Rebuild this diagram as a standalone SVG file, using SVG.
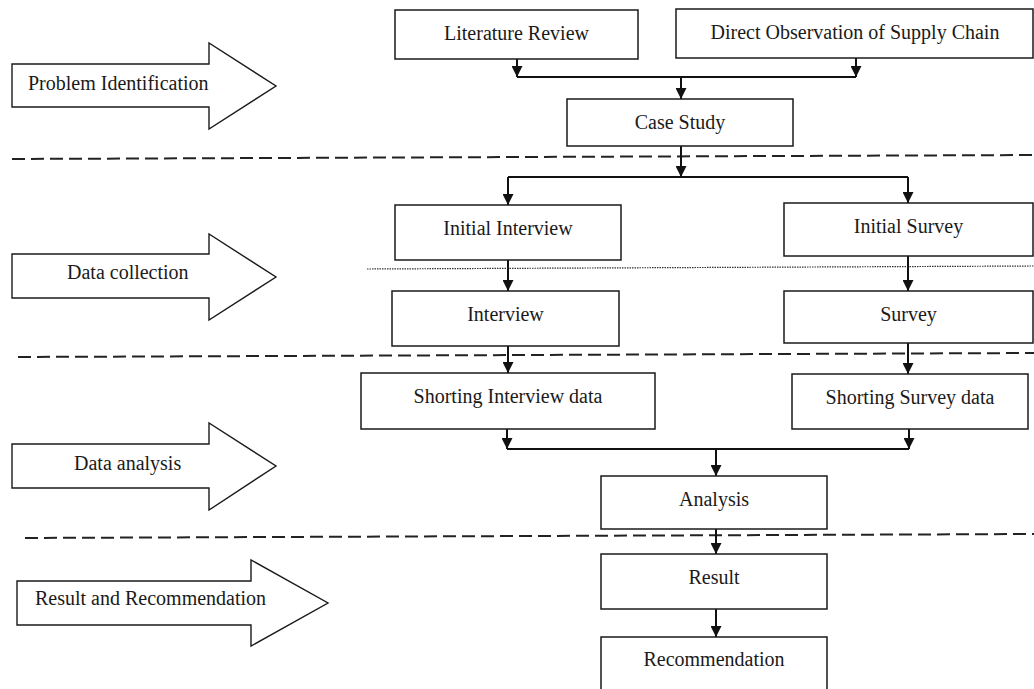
<svg xmlns="http://www.w3.org/2000/svg" width="1034" height="689" viewBox="0 0 1034 689">
<style>
  .box { fill: #ffffff; stroke: #1a1a1a; stroke-width: 1.5; }
  .big { fill: #ffffff; stroke: #1a1a1a; stroke-width: 1.4; stroke-linejoin: miter; }
  .lbl { font-family: "Liberation Serif", "Times New Roman", serif; font-size: 20px; fill: #1a1a1a; }
  .c { text-anchor: middle; }
  .conn { fill: none; stroke: #111111; stroke-width: 2; }
  .arr { marker-end: url(#ah); }
  .dash { fill: none; stroke: #222222; stroke-width: 2; stroke-dasharray: 13 6; }
  .dot { fill: none; stroke: #333333; stroke-width: 1.2; stroke-dasharray: 1.5 1; }
</style>
<defs>
  <marker id="ah" viewBox="0 0 10 10" refX="10" refY="5" markerWidth="12" markerHeight="11" markerUnits="userSpaceOnUse" orient="auto">
    <path d="M0,0 L10,5 L0,10 z" fill="#111111"/>
  </marker>
</defs>
<rect width="1034" height="689" fill="#ffffff"/>

<g id="separators">
  <line class="dash" x1="12" y1="159" x2="1034" y2="155"/>
  <line class="dash" x1="18" y1="357" x2="1034" y2="353"/>
  <line class="dash" x1="25" y1="538" x2="1034" y2="534"/>
  <line class="dot" x1="367" y1="269" x2="1034" y2="266"/>
</g>

<g id="phase-problem">
  <path class="big" d="M12,64 H209 V43 L276,86 L209,129 V107 H12 Z"/>
  <text class="lbl" x="28" y="90">Problem Identification</text>
</g>
<g id="phase-collection">
  <path class="big" d="M12,254 H209 V234 L276,277 L209,320 V298 H12 Z"/>
  <text class="lbl" x="67" y="279">Data collection</text>
</g>
<g id="phase-analysis">
  <path class="big" d="M12,444 H209 V423 L276,466 L209,510 V488 H12 Z"/>
  <text class="lbl" x="74" y="470">Data analysis</text>
</g>
<g id="phase-result">
  <path class="big" d="M17,581 H251 V560 L328,603 L251,646 V625 H17 Z"/>
  <text class="lbl" x="35" y="605">Result and Recommendation</text>
</g>

<g id="connectors">
  <path class="conn arr" d="M517,59 V77"/>
  <path class="conn arr" d="M856,58 V77"/>
  <path class="conn" d="M517,77 H856"/>
  <path class="conn arr" d="M681,77 V99"/>
  <path class="conn arr" d="M681,146 V177"/>
  <path class="conn" d="M508,177 H908"/>
  <path class="conn arr" d="M508,177 V205"/>
  <path class="conn arr" d="M908,177 V203"/>
  <path class="conn arr" d="M508,260 V291"/>
  <path class="conn arr" d="M908,256 V291"/>
  <path class="conn arr" d="M508,346 V373"/>
  <path class="conn arr" d="M908,343 V374"/>
  <path class="conn arr" d="M507,429 V449"/>
  <path class="conn arr" d="M909,429 V449"/>
  <path class="conn" d="M507,449 H909"/>
  <path class="conn arr" d="M716,449 V476"/>
  <path class="conn arr" d="M716,529 V554"/>
  <path class="conn arr" d="M716,609 V637"/>
</g>

<g id="literature-review">
  <rect class="box" x="395" y="10" width="243" height="49"/>
  <text class="lbl c" x="516.5" y="40">Literature Review</text>
</g>
<g id="direct-observation">
  <rect class="box" x="676" y="9" width="357" height="49"/>
  <text class="lbl c" x="855" y="39">Direct Observation of Supply Chain</text>
</g>
<g id="case-study">
  <rect class="box" x="567" y="99" width="226" height="47"/>
  <text class="lbl c" x="680" y="129">Case Study</text>
</g>
<g id="initial-interview">
  <rect class="box" x="395" y="205" width="226" height="55"/>
  <text class="lbl c" x="508" y="235">Initial Interview</text>
</g>
<g id="initial-survey">
  <rect class="box" x="784" y="203" width="249" height="53"/>
  <text class="lbl c" x="908.5" y="233">Initial Survey</text>
</g>
<g id="interview">
  <rect class="box" x="392" y="291" width="227" height="55"/>
  <text class="lbl c" x="505.5" y="321">Interview</text>
</g>
<g id="survey">
  <rect class="box" x="784" y="291" width="249" height="52"/>
  <text class="lbl c" x="908.5" y="321">Survey</text>
</g>
<g id="shorting-interview">
  <rect class="box" x="361" y="373" width="294" height="56"/>
  <text class="lbl c" x="508" y="403">Shorting Interview data</text>
</g>
<g id="shorting-survey">
  <rect class="box" x="792" y="374" width="236" height="55"/>
  <text class="lbl c" x="910" y="404">Shorting Survey data</text>
</g>
<g id="analysis">
  <rect class="box" x="601" y="476" width="226" height="53"/>
  <text class="lbl c" x="714" y="506">Analysis</text>
</g>
<g id="result">
  <rect class="box" x="601" y="554" width="226" height="55"/>
  <text class="lbl c" x="714" y="584">Result</text>
</g>
<g id="recommendation">
  <rect class="box" x="601" y="637" width="226" height="70"/>
  <text class="lbl c" x="714" y="666">Recommendation</text>
</g>
</svg>
